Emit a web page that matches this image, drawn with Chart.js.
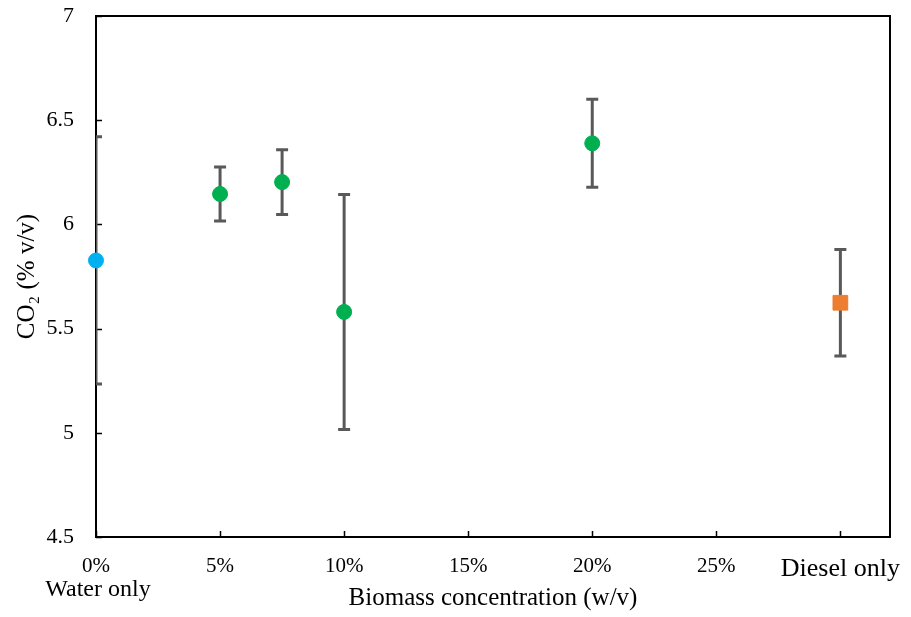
<!DOCTYPE html>
<html>
<head>
<meta charset="utf-8">
<script src="https://cdn.jsdelivr.net/npm/chart.js@4.4.1/dist/chart.umd.min.js"></script>
<style>
	html, body { margin: 0; padding: 0; background: #fff; }
	#wrap { width: 911px; height: 617px; }
</style>
</head>
<body>
<div id="wrap"><canvas id="chart"></canvas></div>
<script>
	// values
	const waterX = [0];
	const waterY = [5.827];
	const waterErr = [0.593];

	const biomassX = [5, 7.5, 10, 20];
	const biomassY = [6.146, 6.203, 5.58, 6.389];
	const biomassErr = [0.13, 0.155, 0.564, 0.211];

	const dieselX = [30];
	const dieselY = [5.624];
	const dieselErr = [0.255];

	const xTickValues = [0, 5, 10, 15, 20, 25, 30];
	const xTickLabels = ["0%", "5%", "10%", "15%", "20%", "25%", "Diesel only"];
	const xSubLabel = "Water only";
	const yTickValues = [4.5, 5, 5.5, 6, 6.5, 7];

	const FONT = "'Liberation Serif', 'Times New Roman', serif";
	const BAR_COLOR = "#595959";

	function points(xs, ys, errs) {
		return xs.map((x, i) => ({ x: x, y: ys[i], err: errs[i] }));
	}

	// the label overhang would otherwise shrink the plot area
	function noScalePadding(scale) {
		scale.paddingTop = 0;
		scale.paddingBottom = 0;
		scale.paddingLeft = 0;
		scale.paddingRight = 0;
	}

	// error bars, inner tick marks, box and the extra "Water only" label
	const decorations = {
		id: "decorations",
		beforeDatasetsDraw(chart) {
			const ctx = chart.ctx;
			const area = chart.chartArea;
			const xs = chart.scales.x;
			const ys = chart.scales.y;

			ctx.save();
			ctx.strokeStyle = "#000";
			ctx.lineWidth = 1.5;
			ctx.beginPath();
			xTickValues.forEach((v) => {
				const px = Math.round(xs.getPixelForValue(v)) + 0.5;
				ctx.moveTo(px, area.bottom);
				ctx.lineTo(px, area.bottom - 6);
			});
			yTickValues.forEach((v) => {
				const py = Math.round(ys.getPixelForValue(v)) + 0.5;
				ctx.moveTo(area.left, py);
				ctx.lineTo(area.left + 6, py);
			});
			ctx.stroke();

			ctx.lineWidth = 2;
			ctx.beginPath();
			ctx.moveTo(area.left, area.top);
			ctx.lineTo(area.right, area.top);
			ctx.lineTo(area.right, area.bottom);
			ctx.stroke();

			ctx.beginPath();
			ctx.rect(area.left, area.top, area.right - area.left, area.bottom - area.top);
			ctx.clip();
			ctx.strokeStyle = BAR_COLOR;
			ctx.lineWidth = 3;
			chart.data.datasets.forEach((ds) => {
				ds.data.forEach((d) => {
					const px = xs.getPixelForValue(d.x);
					const top = ys.getPixelForValue(d.y + d.err);
					const bot = ys.getPixelForValue(d.y - d.err);
					ctx.beginPath();
					ctx.moveTo(px, top);
					ctx.lineTo(px, bot);
					ctx.moveTo(px - 6, top);
					ctx.lineTo(px + 6, top);
					ctx.moveTo(px - 6, bot);
					ctx.lineTo(px + 6, bot);
					ctx.stroke();
				});
			});
			ctx.restore();
		},
		afterDraw(chart) {
			const ctx = chart.ctx;
			const xs = chart.scales.x;
			ctx.save();
			ctx.fillStyle = "#000";
			ctx.font = "24px " + FONT;
			ctx.textAlign = "center";
			ctx.textBaseline = "middle";
			ctx.fillText(xSubLabel, xs.getPixelForValue(0) + 2, 590);
			ctx.restore();
		},
	};

	const ctx = document.getElementById("chart");

	new Chart(ctx, {
		type: "scatter",
		data: {
			datasets: [
				{
					label: "Water only",
					data: points(waterX, waterY, waterErr),
					backgroundColor: "#00B0F0",
					borderColor: "#00B0F0",
					pointRadius: 7.5,
					pointStyle: "circle",
				},
				{
					label: "Biomass",
					data: points(biomassX, biomassY, biomassErr),
					backgroundColor: "#00B050",
					borderColor: "#00B050",
					pointRadius: 7.5,
					pointStyle: "circle",
				},
				{
					label: "Diesel only",
					data: points(dieselX, dieselY, dieselErr),
					backgroundColor: "#ED7D31",
					borderColor: "#ED7D31",
					pointRadius: 10.4,
					pointStyle: "rect",
				},
			],
		},
		options: {
			responsive: true,
			maintainAspectRatio: false,
			animation: false,
			clip: false,
			layout: {
				autoPadding: false,
				padding: { top: 16, right: 21, left: 0, bottom: 0 },
			},
			plugins: {
				legend: { display: false },
				tooltip: { enabled: false },
			},
			scales: {
				x: {
					type: "linear",
					min: 0,
					max: 32,
					afterBuildTicks: (scale) => {
						scale.ticks = xTickValues.map((v) => ({ value: v }));
					},
					afterFit: (scale) => {
						scale.height = 80;
						noScalePadding(scale);
					},
					grid: { display: false, drawTicks: false },
					border: { display: true, color: "#000", width: 2 },
					ticks: {
						color: "#000",
						padding: 17,
						maxRotation: 0,
						autoSkip: false,
						font: (c) => ({
							family: FONT,
							size: c.tick && c.tick.value === 30 ? 26 : 21,
						}),
						callback: (value) => {
							const i = xTickValues.indexOf(value);
							return i >= 0 ? xTickLabels[i] : "";
						},
					},
					title: {
						display: true,
						text: "Biomass concentration (w/v)",
						color: "#000",
						font: { family: FONT, size: 25 },
						padding: { top: 0, bottom: 4 },
					},
				},
				y: {
					min: 4.5,
					max: 7,
					afterBuildTicks: (scale) => {
						scale.ticks = yTickValues.map((v) => ({ value: v }));
					},
					afterFit: (scale) => {
						scale.width = 96;
						noScalePadding(scale);
					},
					grid: { display: false, drawTicks: false },
					border: { display: true, color: "#000", width: 2 },
					ticks: {
						color: "#000",
						padding: 22,
						font: { family: FONT, size: 22 },
						callback: (value) => String(value),
					},
					title: {
						display: true,
						text: "CO\u2082 (% v/v)",
						color: "#000",
						font: { family: FONT, size: 25 },
						padding: { top: 12, bottom: 0 },
					},
				},
			},
		},
		plugins: [decorations],
	});
</script>
</body>
</html>
